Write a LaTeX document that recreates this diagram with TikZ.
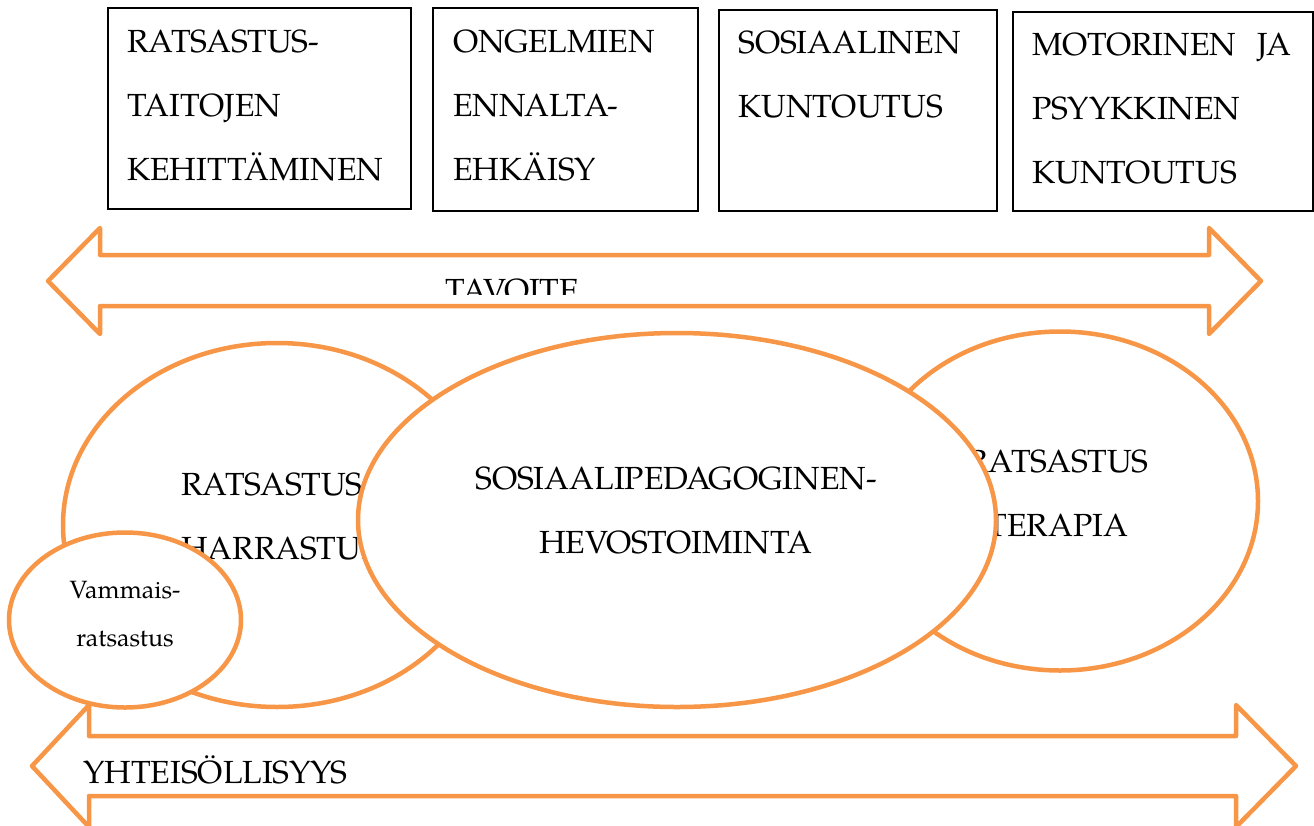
\documentclass[tikz,border=0pt]{standalone}
\usepackage{fontspec}
\setmainfont{TeX Gyre Pagella}
\usetikzlibrary{shapes.geometric}
\definecolor{accent}{HTML}{F79646}

\begin{document}
\begin{tikzpicture}[
  x=1pt, y=-1pt,
  goal box/.style={
    draw,
    line width=1.5pt,
    inner sep=0pt,
    anchor=north west,
  },
  big text/.style={
    inner sep=0pt,
    font=\fontsize{32}{64}\selectfont,
  },
  box text/.style={
    big text,
    anchor=base west,
    align=left,
  },
  field/.style={
    ellipse,
    draw=accent,
    fill=white,
    line width=4.5pt,
    inner sep=0pt,
  },
  field text/.style={
    big text,
    anchor=base,
    align=center,
    text width=300pt,
  },
  band/.style={
    draw=accent,
    line width=4.5pt,
    line join=round,
  },
  ]
  \clip (0,0) rectangle (1314,825);

  % goals
  \node[goal box,minimum width=303,minimum height=201] (box1) at (107,7) {};
  \node[goal box,minimum width=265,minimum height=203] (box2) at (432,7) {};
  \node[goal box,minimum width=278,minimum height=201] (box3) at (718,9) {};
  \node[goal box,minimum width=300,minimum height=199] (box4) at (1012,11) {};

  \node[box text,text width=270pt] (goal1) at (127,52)
  {RATSASTUS-\\TAITOJEN\\KEHITTÄMINEN};
  \node[box text,text width=235pt] (goal2) at (453,52)
  {ONGELMIEN\\ENNALTA-\\EHKÄISY};
  \node[box text,text width=250pt] (goal3) at (738,53)
  {SOSIAALINEN\\KUNTOUTUS};
  \node[box text,text width=259pt] (goal4) at (1032,55)
  {MOTORINEN\hfill JA\\PSYYKKINEN\\KUNTOUTUS};

  \draw[band] (48,281) -- (100,228) -- (100,255) -- (1209,255)
    -- (1209,228) -- (1261,281) -- (1209,334) -- (1209,306)
    -- (100,306) -- (100,334) -- cycle;
  \begin{scope}
    \clip (400,260) rectangle (640,294);
    \node[big text,anchor=base west] (aim) at (445,301) {TAVOITE};
  \end{scope}

  % fields of activity
  \node[field,minimum width=428,minimum height=364] (hobby) at (277,525) {};
  \node[box text,text width=250pt] (hobby text) at (181,495) {RATSASTUS\\HARRASTUS};

  \node[field,minimum width=232,minimum height=175] (disabled) at (125,620) {};
  \node[field text,text width=200pt,font=\fontsize{25}{48}\selectfont]
    (disabled text) at (125,598) {Vammais-\\ratsastus};

  \node[field,minimum width=396,minimum height=339] (therapy) at (1060,501) {};
  \node[field text] (therapy text) at (1058,472) {RATSASTUS\\TERAPIA};

  \node[field,minimum width=638,minimum height=374] (social) at (677,520) {};
  \node[field text,text width=500pt] (social text) at (676,489)
  {SOSIAALIPEDAGOGINEN-\\HEVOSTOIMINTA};

  \draw[band] (32,766) -- (89,705) -- (89,736) -- (1236,736)
    -- (1236,705) -- (1296,766) -- (1236,827) -- (1236,796)
    -- (89,796) -- (89,827) -- cycle;
  \node[big text,anchor=base west] (community) at (83,783) {YHTEISÖLLISYYS};
\end{tikzpicture}
\end{document}
